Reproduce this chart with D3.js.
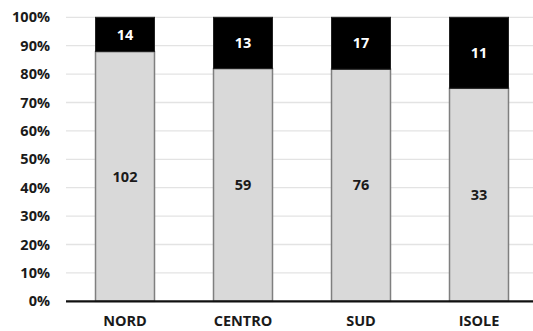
<!DOCTYPE html>
<html>
<head>
<meta charset="utf-8">
<script src="https://cdn.jsdelivr.net/npm/d3@7"></script>
<style>
  body { margin: 0; background: #fff; }
  svg { display: block; font-family: "Open Sans", sans-serif; font-weight: bold; }
</style>
</head>
<body>
<div class="chart"></div>
<script>
const regions = ["NORD", "CENTRO", "SUD", "ISOLE"];
const lower = [102, 59, 76, 33];
const upper = [14, 13, 17, 11];
const ticks = [0, 0.1, 0.2, 0.3, 0.4, 0.5, 0.6, 0.7, 0.8, 0.9, 1];

let width = 533;
let height = 331;

const svg = d3.select('.chart')
.append('svg')
.attr("width", width)
.attr("height", height);

let y = d3.scaleLinear()
.domain([0, 1])
.range([301.3, 17.3]);

let x = d3.scaleBand()
.domain(regions)
.range([66, 538])
.paddingInner(0.5)
.paddingOuter(0.25);

// gridlines
svg.append("g")
.selectAll("line")
.data(ticks.filter(t => t > 0))
.enter()
.append("line")
.attr("x1", 66)
.attr("x2", width)
.attr("y1", d => y(d))
.attr("y2", d => y(d))
.attr("stroke", "#e3e3e3")
.attr("stroke-width", 1.3);

// y axis labels
let yAxis = svg.append("g")
.attr("transform", "translate(50,0)")
.call(d3.axisLeft(y).tickValues(ticks).tickFormat(d3.format(".0%")).tickSize(0).tickPadding(0));

yAxis.select(".domain").remove();
yAxis.selectAll("text")
.attr("font-size", 14.5)
.attr("font-family", "Open Sans, sans-serif")
.attr("font-weight", "bold")
.attr("fill", "#1a1a1a");

let rows = regions.map((r, i) => {
  let total = lower[i] + upper[i];
  return { region: r, low: lower[i], high: upper[i], share: lower[i] / total };
});

let bars = svg.append("g")
.selectAll("g")
.data(rows)
.enter()
.append("g");

bars.append("rect")
.attr("x", d => x(d.region))
.attr("width", x.bandwidth())
.attr("y", d => y(d.share))
.attr("height", d => y(0) - y(d.share))
.attr("fill", "#d9d9d9")
.attr("stroke", "#7f7f7f")
.attr("stroke-width", 1.5);

bars.append("rect")
.attr("x", d => x(d.region))
.attr("width", x.bandwidth())
.attr("y", y(1))
.attr("height", d => y(d.share) - y(1))
.attr("fill", "#000")
.attr("stroke", "#222")
.attr("stroke-width", 1);

bars.append("text")
.attr("x", d => x(d.region) + x.bandwidth() / 2)
.attr("y", d => (y(0) + y(d.share)) / 2)
.attr("dy", "0.35em")
.attr("text-anchor", "middle")
.attr("font-size", 14.5)
.attr("fill", "#1a1a1a")
.text(d => d.low);

bars.append("text")
.attr("x", d => x(d.region) + x.bandwidth() / 2)
.attr("y", d => (y(1) + y(d.share)) / 2)
.attr("dy", "0.35em")
.attr("text-anchor", "middle")
.attr("font-size", 14.5)
.attr("fill", "#fff")
.text(d => d.high);

// base line
svg.append("line")
.attr("x1", 66)
.attr("x2", width)
.attr("y1", y(0))
.attr("y2", y(0))
.attr("stroke", "#111")
.attr("stroke-width", 2.2);

// x axis labels
let xAxis = svg.append("g")
.attr("transform", "translate(0," + y(0) + ")")
.call(d3.axisBottom(x).tickSize(0).tickPadding(14));

xAxis.select(".domain").remove();
xAxis.selectAll("text")
.attr("font-size", 14.5)
.attr("font-family", "Open Sans, sans-serif")
.attr("font-weight", "bold")
.attr("fill", "#1a1a1a");
</script>
</body>
</html>
